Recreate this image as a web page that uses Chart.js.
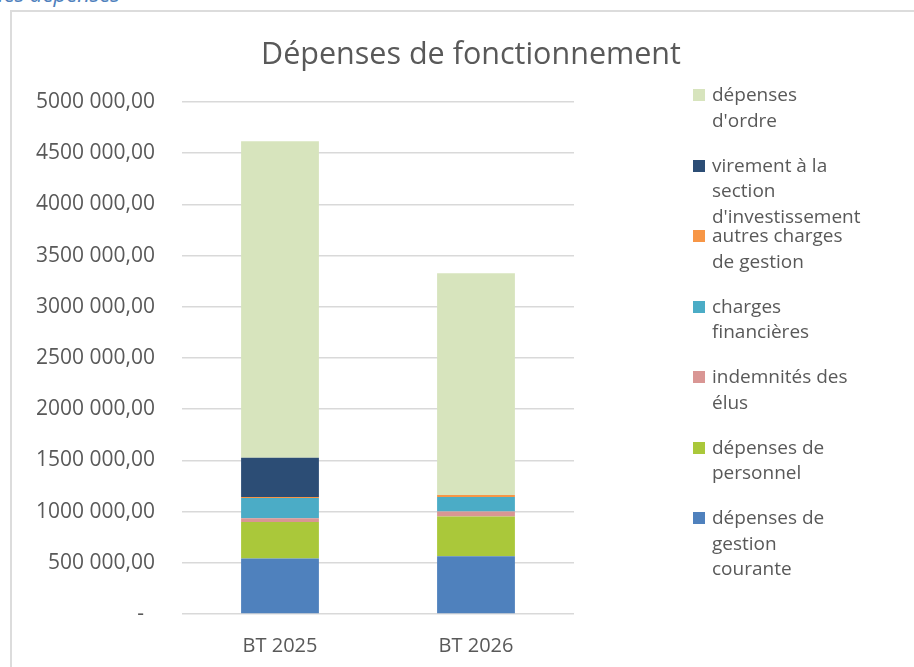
<!DOCTYPE html>
<html lang="fr">
<head>
<meta charset="utf-8">
<title>Dépenses de fonctionnement</title>
<script src="https://cdn.jsdelivr.net/npm/chart.js@4/dist/chart.umd.min.js"></script>
<style>
    body {
        margin: 0;
        width: 914px;
        height: 667px;
        overflow: hidden;
        background: #ffffff;
        font-family: "Open Sans", sans-serif;
        position: relative;
    }
    .doc-heading {
        position: absolute;
        left: -9px;
        top: -22.5px;
        font-size: 22px;
        line-height: 30px;
        font-style: italic;
        color: #4f81bd;
        white-space: nowrap;
    }
    .frame {
        position: absolute;
        left: 10px;
        top: 10px;
        width: 1000px;
        height: 1000px;
        border: 2px solid #dcdcdc;
    }
    .chart-box {
        position: absolute;
        left: 0;
        top: 0;
        width: 914px;
        height: 667px;
    }
    .chart-title {
        position: absolute;
        left: 0;
        width: 942px;
        top: 32px;
        text-align: center;
        font-size: 30.5px;
        line-height: 40px;
        color: #595959;
        white-space: nowrap;
    }
    .legend-item {
        position: absolute;
        left: 693px;
        font-size: 19px;
        line-height: 25.5px;
        color: #595959;
    }
    .legend-item .swatch {
        position: absolute;
        left: 0;
        top: 7px;
        width: 12px;
        height: 12px;
    }
    .legend-item .text {
        margin-left: 19px;
        width: 140px;
    }
</style>
</head>
<body>
<div class="doc-heading">des dépenses</div>
<div class="frame"></div>
<div class="chart-box">
    <canvas id="depChart" width="914" height="667"></canvas>
</div>
<div class="chart-title">Dépenses de fonctionnement</div>
<div id="legend"></div>

<script>
// data (euros)
const categories = ["BT 2025", "BT 2026"];

const gestionCourante = [542000, 564000];
const personnel = [356000, 387000];
const indemnitesElus = [37000, 49000];
const chargesFinancieres = [198000, 143000];
const autresCharges = [10000, 19000];
const virementInvest = [383000, 0];
const depensesOrdre = [3091000, 2165000];

const yTickLabels = [
    "-  ", "500 000,00", "1000 000,00", "1500 000,00", "2000 000,00", "2500 000,00",
    "3000 000,00", "3500 000,00", "4000 000,00", "4500 000,00", "5000 000,00",
];

const datasets = [
    { label: "dépenses de gestion courante", data: gestionCourante, backgroundColor: "#4f81bd" },
    { label: "dépenses de personnel", data: personnel, backgroundColor: "#aac83a" },
    { label: "indemnités des élus", data: indemnitesElus, backgroundColor: "#d99694" },
    { label: "charges financières", data: chargesFinancieres, backgroundColor: "#4bacc6" },
    { label: "autres charges de gestion", data: autresCharges, backgroundColor: "#f79646" },
    { label: "virement à la section d'investissement", data: virementInvest, backgroundColor: "#2c4d75" },
    { label: "dépenses d'ordre", data: depensesOrdre, backgroundColor: "#d7e4bd" },
];

// html legend, top of the stack first like in Excel
const htmlLegend = {
    id: "htmlLegend",
    afterUpdate(chart) {
        const box = document.getElementById("legend");
        box.innerHTML = "";
        const items = chart.data.datasets.slice().reverse();
        items.forEach((ds, i) => {
            const item = document.createElement("div");
            item.className = "legend-item";
            item.style.top = (82.25 + i * 70.5) + "px";
            const sw = document.createElement("span");
            sw.className = "swatch";
            sw.style.background = ds.backgroundColor;
            const txt = document.createElement("div");
            txt.className = "text";
            txt.textContent = ds.label;
            item.appendChild(sw);
            item.appendChild(txt);
            box.appendChild(item);
        });
    },
};

const ctx = document.getElementById("depChart").getContext("2d");
new Chart(ctx, {
    type: "bar",
    data: {
        labels: categories,
        datasets: datasets.map((d) => ({
            ...d,
            borderWidth: 0,
            categoryPercentage: 1,
            barPercentage: 0.397,
        })),
    },
    options: {
        responsive: false,
        animation: false,
        layout: {
            padding: { left: 0, right: 340, top: 102, bottom: 0 },
        },
        plugins: {
            legend: { display: false },
            title: { display: false },
            tooltip: { enabled: false },
        },
        scales: {
            x: {
                stacked: true,
                grid: { display: false, drawTicks: false },
                border: { display: false },
                ticks: {
                    color: "#595959",
                    font: { family: "Open Sans", size: 20 },
                    padding: 20,
                },
                afterFit: (scale) => {
                    scale.height = 53;
                },
            },
            y: {
                stacked: true,
                min: 0,
                max: 5000000,
                grid: {
                    color: "#d9d9d9",
                    lineWidth: 1.5,
                    drawTicks: false,
                },
                border: { display: false },
                ticks: {
                    stepSize: 500000,
                    color: "#595959",
                    font: { family: "Open Sans", size: 21 },
                    padding: 27,
                    callback: (value, index) => yTickLabels[index],
                },
                afterFit: (scale) => {
                    scale.width = 182;
                },
            },
        },
    },
    plugins: [htmlLegend],
});
</script>
</body>
</html>
